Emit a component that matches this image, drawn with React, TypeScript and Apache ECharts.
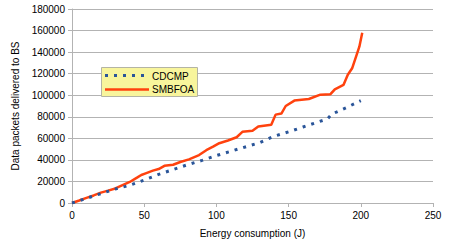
import React, { useEffect, useRef } from "react";
import * as echarts from "echarts";

const xTicks = [0, 50, 100, 150, 200, 250];
const yTicks = [0, 20000, 40000, 60000, 80000, 100000, 120000, 140000, 160000, 180000];
const seriesNames = ["CDCMP", "SMBFOA"];

const cdcmpX = [0, 10, 20, 30, 40, 50, 60, 70, 80, 90, 100, 110, 120, 130, 140, 150, 160, 170, 177, 180, 190, 200];
const cdcmpY = [0, 4300, 8700, 13000, 16500, 21300, 26500, 31000, 35500, 39500, 44000, 48000, 52000, 56000, 62000, 66000, 70500, 75000, 78000, 82500, 88500, 95000];

const smbfoaX = [0, 5, 10, 15, 20, 25, 30, 35, 40, 45, 48, 51, 56, 60, 64, 70, 75, 81, 88, 93, 98, 102, 108, 114, 118, 125, 129, 138, 141, 145, 148, 154, 164, 172, 179, 182, 188, 191, 194, 197, 199, 201];
const smbfoaY = [0, 2300, 4700, 7000, 9600, 11500, 13500, 16500, 19500, 23500, 26000, 27500, 30000, 31500, 34500, 35500, 38000, 40500, 44500, 49000, 52500, 55500, 58000, 61000, 66000, 67000, 71000, 72500, 82000, 83000, 90000, 95000, 96500, 100500, 101000, 105500, 109500, 119000, 125000, 137000, 145000, 158000];

const BLUE = "#2a5599";
const RED = "#ff420e";

export default function App() {
  const ref = useRef<HTMLDivElement>(null);
  useEffect(() => {
    if (!ref.current) return;
    const chart = echarts.init(ref.current, null, { renderer: "svg" });
    const font = "Liberation Sans";
    chart.setOption({
      animation: false,
      backgroundColor: "#ffffff",
      textStyle: { fontFamily: font },
      grid: { left: 72, right: 16, top: 9, bottom: 44 },
      graphic: [
        {
          type: "rect",
          shape: { x: 101.5, y: 67.5, width: 96, height: 29 },
          style: { fill: "#f8f59c", stroke: "#b4b4a4", lineWidth: 1 },
          z: 10,
        },
        {
          type: "line",
          shape: { x1: 105, y1: 75.5, x2: 149, y2: 75.5 },
          style: { stroke: BLUE, lineWidth: 3, lineDash: [3, 6] },
          z: 11,
        },
        {
          type: "line",
          shape: { x1: 105, y1: 89.5, x2: 149, y2: 89.5 },
          style: { stroke: RED, lineWidth: 2.5 },
          z: 11,
        },
        {
          type: "text",
          x: 152,
          y: 76,
          style: { text: seriesNames[0], fontFamily: font, fontSize: 10, fill: "#000000", verticalAlign: "middle" },
          z: 11,
        },
        {
          type: "text",
          x: 152,
          y: 89.5,
          style: { text: seriesNames[1], fontFamily: font, fontSize: 10, fill: "#000000", verticalAlign: "middle" },
          z: 11,
        },
      ],
      xAxis: {
        type: "value",
        min: 0,
        max: 250,
        interval: 50,
        name: "Energy consumption (J)",
        nameLocation: "middle",
        nameGap: 25,
        nameTextStyle: { fontFamily: font, fontSize: 10, color: "#000000" },
        axisLine: { show: true, lineStyle: { color: "#b3b3b3" } },
        axisTick: { show: true, length: 4, lineStyle: { color: "#b3b3b3" } },
        axisLabel: { fontFamily: font, fontSize: 10, color: "#000000", margin: 7, formatter: (v: number) => (xTicks.includes(v) ? String(v) : "") },
        splitLine: { show: false },
      },
      yAxis: {
        type: "value",
        min: 0,
        max: 180000,
        interval: 20000,
        name: "Data packets delivered to BS",
        nameLocation: "middle",
        nameGap: 52,
        nameTextStyle: { fontFamily: font, fontSize: 10, color: "#000000" },
        axisLine: { show: true, lineStyle: { color: "#b3b3b3" } },
        axisTick: { show: true, length: 4, lineStyle: { color: "#b3b3b3" } },
        axisLabel: { fontFamily: font, fontSize: 10, color: "#000000", margin: 7, formatter: (v: number) => (yTicks.includes(v) ? String(v) : "") },
        splitLine: { show: true, lineStyle: { color: "#b3b3b3", width: 1 } },
      },
      series: [
        {
          name: seriesNames[0],
          type: "line",
          showSymbol: false,
          symbol: "none",
          data: cdcmpX.map((x, i) => [x, cdcmpY[i]]),
          lineStyle: { color: BLUE, width: 3, type: [3, 6], cap: "butt" },
          itemStyle: { color: BLUE },
          z: 3,
        },
        {
          name: seriesNames[1],
          type: "line",
          showSymbol: false,
          symbol: "none",
          data: smbfoaX.map((x, i) => [x, smbfoaY[i]]),
          lineStyle: { color: RED, width: 2.5 },
          itemStyle: { color: RED },
          z: 2,
        },
      ],
    });
    return () => chart.dispose();
  }, []);
  return <div ref={ref} style={{ position: "absolute", left: 0, top: 0, width: 449, height: 247 }} />;
}
